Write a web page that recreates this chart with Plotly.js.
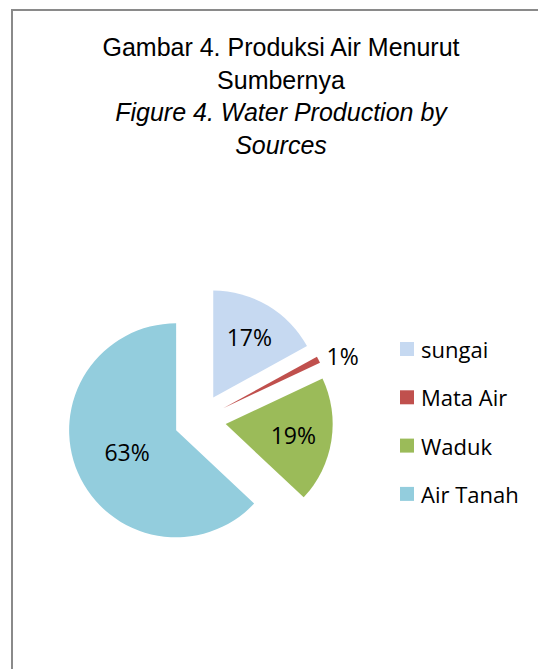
<!DOCTYPE html>
<html><head><meta charset="utf-8">
<script src="https://cdn.plot.ly/plotly-3.0.1.min.js"></script>
<style>html,body{margin:0;padding:0;background:#fff}#chart{width:538px;height:669px}</style>
</head><body><div id="chart"></div>
<script>
// Data
const categories = ['sungai', 'Mata Air', 'Waduk', 'Air Tanah'];
const shares = [17, 1, 19, 63];
const colors = ['#C6D9F1', '#C0504D', '#9BBB59', '#93CDDD'];
const textPositions = ['inside', 'outside', 'inside', 'inside'];
const titleText = 'Gambar 4. Produksi Air Menurut<br>Sumbernya<br><i>Figure 4. Water Production by</i><br><i>Sources</i>';

const W = 538, H = 669;
const px = x => x / W;
const py = y => 1 - y / H;
const labelFont = 'Open Sans, sans-serif';

const trace = {
  type: 'pie',
  labels: categories,
  values: shares,
  sort: false,
  direction: 'clockwise',
  rotation: 0,
  pull: categories.map(() => 0.243),
  marker: { colors: colors, line: { width: 0 } },
  texttemplate: '%{percent:.0%}',
  textposition: textPositions,
  insidetextorientation: 'horizontal',
  textfont: { family: labelFont, size: 23, color: '#000' },
  outsidetextfont: { family: labelFont, size: 23, color: '#000' },
  domain: { x: [px(67), px(333)], y: [py(553), py(287)] },
  hoverinfo: 'none',
  showlegend: false
};

const shapes = [
  { type: 'line', xref: 'paper', yref: 'paper', x0: px(12), x1: px(12), y0: -0.01, y1: py(10), line: { color: '#8a8a8a', width: 2 } },
  { type: 'line', xref: 'paper', yref: 'paper', x0: px(11), x1: 1.01, y0: py(10), y1: py(10), line: { color: '#8a8a8a', width: 2 } }
];
const annotations = [];
categories.forEach((c, i) => {
  const yc = 349 + i * 48.3;
  shapes.push({ type: 'rect', xref: 'paper', yref: 'paper', x0: px(400), x1: px(414), y0: py(yc + 7), y1: py(yc - 7), fillcolor: colors[i], line: { width: 0 } });
  annotations.push({ xref: 'paper', yref: 'paper', x: px(419), y: py(yc), xanchor: 'left', yanchor: 'middle', text: c, showarrow: false, font: { family: labelFont, size: 22, color: '#000' } });
});

const layout = {
  width: W, height: H,
  margin: { l: 0, r: 0, t: 0, b: 0 },
  paper_bgcolor: '#fff',
  title: {
    text: titleText,
    x: px(281), xref: 'paper', xanchor: 'center',
    y: py(56), yref: 'paper', yanchor: 'top',
    font: { family: 'Liberation Sans, Arial, sans-serif', size: 25, color: '#000' }
  },
  uniformtext: { minsize: 23, mode: 'show' },
  shapes: shapes,
  annotations: annotations,
  showlegend: false
};

Plotly.newPlot('chart', [trace], layout, { displayModeBar: false, staticPlot: true });
</script>
</body></html>
